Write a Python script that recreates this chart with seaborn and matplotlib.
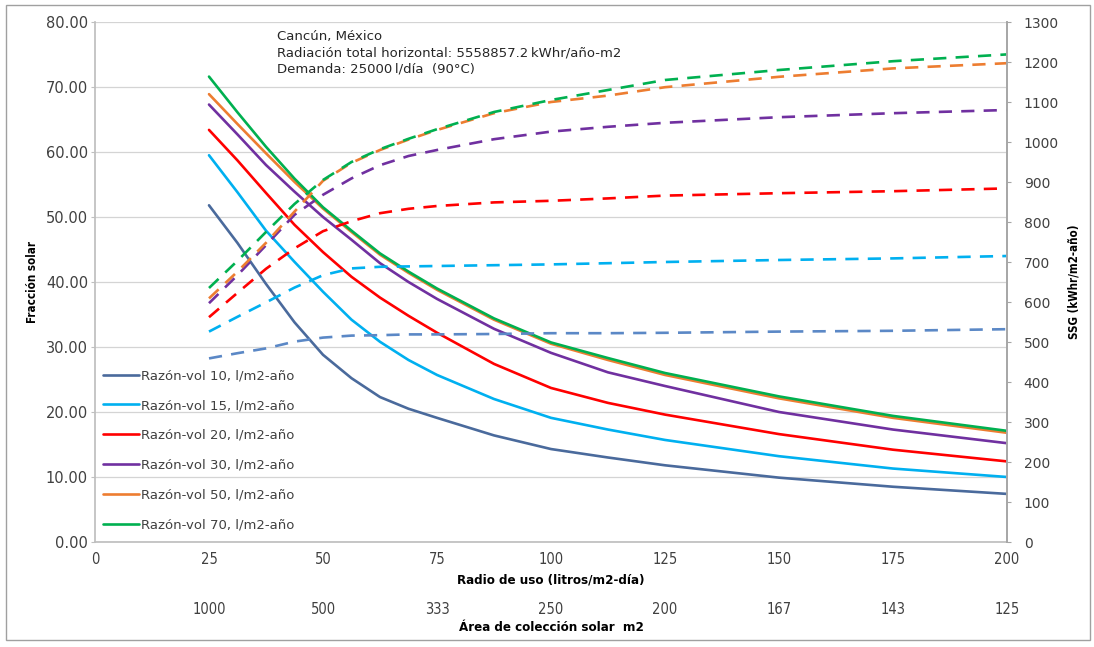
import matplotlib
matplotlib.use("Agg")
import matplotlib.pyplot as plt
import seaborn as sns
import pandas as pd
from matplotlib.patches import Rectangle

# ---------------- data ----------------
radio_uso = [25, 31.25, 37.5, 43.75, 50, 56.25, 62.5, 68.75, 75, 87.5, 100,
             112.5, 125, 150, 175, 200]

series_names = [
    "Razón-vol 10, l/m2-año",
    "Razón-vol 15, l/m2-año",
    "Razón-vol 20, l/m2-año",
    "Razón-vol 30, l/m2-año",
    "Razón-vol 50, l/m2-año",
    "Razón-vol 70, l/m2-año",
]

# Fracción solar (left axis, solid lines)
fs_10 = [51.8, 46.0, 39.7, 33.8, 28.8, 25.2, 22.3, 20.5, 19.1, 16.4, 14.3, 13.0, 11.8, 9.9, 8.5, 7.4]
fs_15 = [59.5, 53.8, 47.9, 43.1, 38.5, 34.2, 30.8, 28.0, 25.7, 22.0, 19.1, 17.3, 15.7, 13.2, 11.3, 10.0]
fs_20 = [63.4, 58.7, 53.7, 48.8, 44.6, 40.8, 37.6, 34.8, 32.2, 27.4, 23.7, 21.4, 19.6, 16.6, 14.2, 12.4]
fs_30 = [67.3, 62.7, 58.0, 53.9, 50.0, 46.5, 42.9, 40.0, 37.4, 32.8, 29.1, 26.1, 24.0, 20.0, 17.3, 15.2]
fs_50 = [68.9, 64.3, 59.8, 55.4, 51.3, 47.7, 44.2, 41.4, 38.8, 34.2, 30.5, 28.0, 25.7, 22.1, 19.1, 16.8]
fs_70 = [71.6, 66.1, 60.8, 55.9, 51.5, 47.9, 44.4, 41.6, 39.0, 34.4, 30.7, 28.3, 26.0, 22.4, 19.4, 17.1]

# SSG (right axis, dashed lines)
ssg_10 = [459, 472, 484, 501, 511, 516, 517, 519, 519, 520, 522, 522, 523, 526, 528, 532]
ssg_15 = [526, 563, 599, 636, 667, 684, 688, 689, 690, 692, 694, 697, 700, 705, 709, 715]
ssg_20 = [562, 623, 683, 734, 777, 802, 822, 833, 840, 849, 853, 859, 866, 872, 877, 884]
ssg_30 = [597, 667, 742, 818, 868, 909, 942, 965, 980, 1007, 1026, 1038, 1048, 1062, 1072, 1080]
ssg_50 = [609, 676, 748, 826, 903, 948, 980, 1006, 1030, 1072, 1100, 1116, 1137, 1163, 1184, 1197]
ssg_70 = [635, 703, 775, 845, 905, 950, 982, 1008, 1032, 1075, 1105, 1130, 1155, 1180, 1202, 1219]

x_ticks = [0, 25, 50, 75, 100, 125, 150, 175, 200]
area_ticks = [25, 50, 75, 100, 125, 150, 175, 200]
area_labels = ["1000", "500", "333", "250", "200", "167", "143", "125"]
left_ticks = [0, 10, 20, 30, 40, 50, 60, 70, 80]
right_ticks = list(range(0, 1400, 100))

fs_all = [fs_10, fs_15, fs_20, fs_30, fs_50, fs_70]
ssg_all = [ssg_10, ssg_15, ssg_20, ssg_30, ssg_50, ssg_70]

# ---------------- style ----------------
solid_colors = ["#4A6A9C", "#00B0F0", "#FF0000", "#7030A0", "#ED7D31", "#00B050"]
dash_colors = ["#5B88C6", "#00B0F0", "#FF0000", "#7030A0", "#ED7D31", "#00B050"]

sns.set_theme(style="white")
plt.rcParams["font.family"] = ["DejaVu Sans"]
narrow = ["DejaVu Sans"]
NARROW_KW = dict(family=narrow, fontstretch="condensed")

fig = plt.figure(figsize=(10.94, 6.47), dpi=100)
ax = fig.add_axes([95 / 1094, 1 - 542 / 647, 912 / 1094, 520 / 647])
ax2 = ax.twinx()

df_fs = pd.DataFrame({
    "x": radio_uso * len(series_names),
    "v": sum(fs_all, []),
    "serie": [n for n in series_names for _ in radio_uso],
})
df_ssg = pd.DataFrame({
    "x": radio_uso * len(series_names),
    "v": sum(ssg_all, []),
    "serie": [n for n in series_names for _ in radio_uso],
})

sns.lineplot(data=df_fs, x="x", y="v", hue="serie", hue_order=series_names,
             palette=solid_colors, ax=ax, linewidth=1.9, legend=True)
sns.lineplot(data=df_ssg, x="x", y="v", hue="serie", hue_order=series_names,
             palette=dash_colors, ax=ax2, linewidth=1.9, legend=False)
for ln in ax2.get_lines():
    ln.set_dashes((5, 3.5))

# axes limits & ticks
ax.set_xlim(0, 200)
ax.set_ylim(0, 80)
ax2.set_ylim(0, 1300)
ax.set_xticks(x_ticks)
ax.set_yticks(left_ticks)
ax.set_yticklabels([f"{t:.2f}" for t in left_ticks])
ax2.set_yticks(right_ticks)
ax2.set_yticklabels([str(t) for t in right_ticks])

ax.grid(axis="y", color="#D4D4D4", linewidth=0.9)
ax.grid(axis="x", visible=False)
ax2.grid(False)

ax.spines["top"].set_visible(False)
ax2.spines["top"].set_visible(False)
ax.spines["right"].set_visible(False)
ax2.spines["left"].set_visible(False)
ax2.spines["bottom"].set_visible(False)
ax.spines["left"].set_color("#BFBFBF")
ax.spines["bottom"].set_color("#BFBFBF")
ax2.spines["right"].set_color("#A6A6A6")
ax2.spines["right"].set_linewidth(1.4)

ax.tick_params(axis="y", left=True, length=3, width=0.8, color="#BFBFBF",
               pad=2, labelsize=10.5, labelcolor="#404040")
ax.tick_params(axis="x", bottom=False, length=0, pad=7)
for lab in ax.get_xticklabels():
    lab.set_family(narrow)
    lab.set_fontstretch("condensed")
    lab.set_fontsize(10.5)
    lab.set_color("#404040")
ax2.tick_params(axis="y", right=True, length=3, width=0.8, color="#A6A6A6",
                pad=9, labelsize=10, labelcolor="#404040")

ax.set_xlabel("Radio de uso (litros/m2-día)", fontweight="bold",
              fontsize=9.5, color="black", **NARROW_KW)
ax.xaxis.set_label_coords(0.5, -0.06)
ax.set_ylabel("Fracción solar", fontweight="bold", fontsize=8.3,
              color="black", **NARROW_KW)
ax.yaxis.set_label_coords(-0.061, 0.5)
ax2.set_ylabel("SSG (kWhr/m2-año)", fontweight="bold",
               fontsize=8.3, color="black", **NARROW_KW)
ax2.yaxis.set_label_coords(1.066, 0.5)

# secondary x axis (collector area)
secax = ax.secondary_xaxis(-0.11)
secax.set_xticks(area_ticks)
secax.set_xticklabels(area_labels)
secax.tick_params(axis="x", length=0, pad=2)
for lab in secax.get_xticklabels():
    lab.set_family(narrow)
    lab.set_fontstretch("condensed")
    lab.set_fontsize(10.5)
    lab.set_color("#404040")
secax.spines["bottom"].set_visible(False)
secax.set_xlabel("Área de colección solar  m2", fontweight="bold",
                 fontsize=9.5, color="black", labelpad=3, **NARROW_KW)

# legend
leg = ax.legend(loc="upper left", bbox_to_anchor=(0.009, 0.332), frameon=False,
                fontsize=9.5, labelspacing=1.27, handlelength=2.7,
                handletextpad=0.15, borderaxespad=0, borderpad=0)
for t in leg.get_texts():
    t.set_color("#404040")

# annotation
ax.text(0.2, 0.985,
        "Cancún, México\nRadiación total horizontal: 5558857.2\u2009kWhr/año-m2\n"
        "Demanda: 25000\u2009l/día  (90°C)",
        transform=ax.transAxes, ha="left", va="top", fontsize=9.5,
        color="#262626", linespacing=1.35)

# chart border
fig.patches.append(Rectangle((6 / 1094, 1 - 640 / 647), 1084 / 1094, 635 / 647,
                             transform=fig.transFigure, fill=False,
                             edgecolor="#A0A0A0", linewidth=1))

fig.savefig("out.png", dpi=100)
